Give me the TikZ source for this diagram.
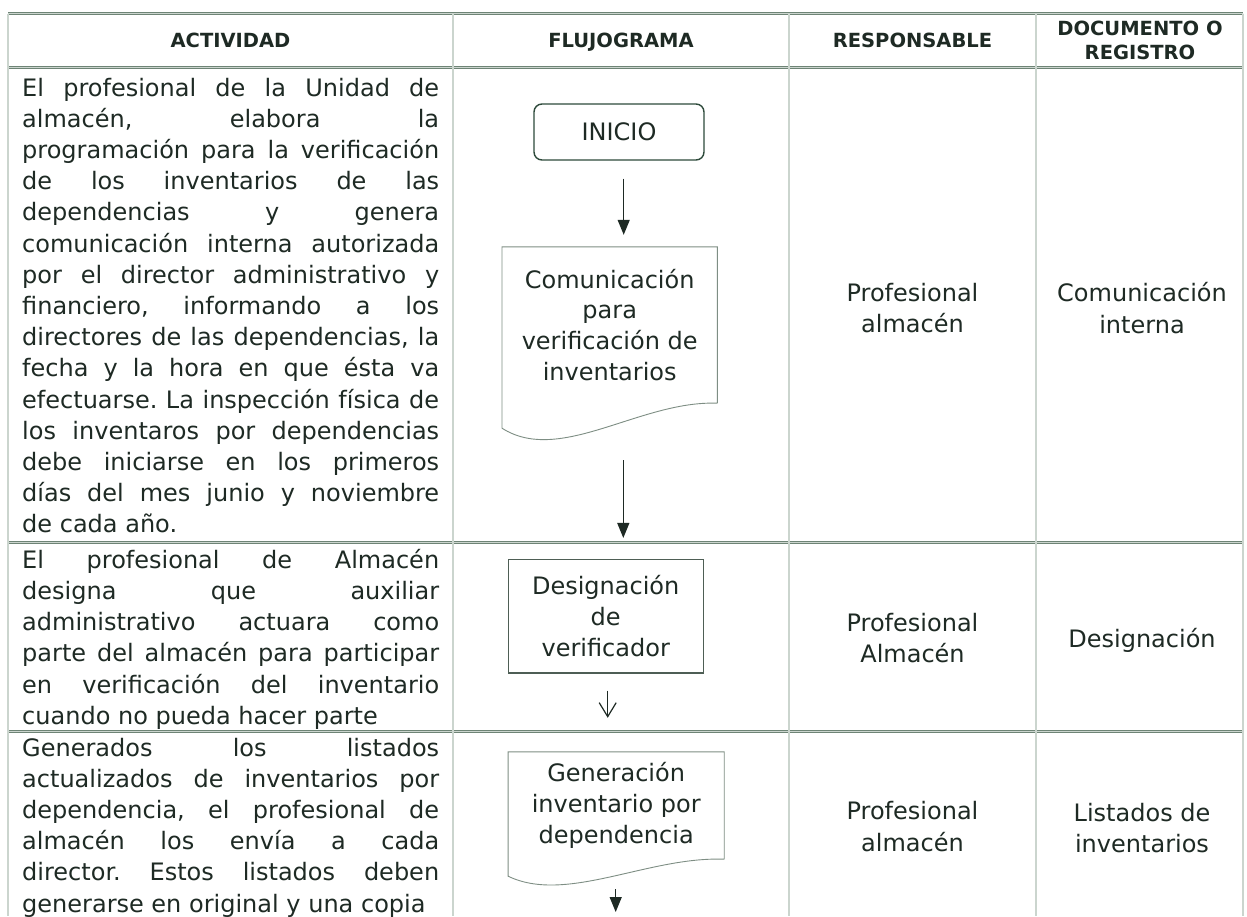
\documentclass[tikz,border=0pt]{standalone}
\usepackage{fontspec}
\setmainfont{DejaVu Sans}
\usepackage{tikz}
\usetikzlibrary{arrows.meta}
\definecolor{GridGreen}{HTML}{6E8476}
\definecolor{GridLight}{HTML}{CBD5CE}
\definecolor{InkDark}{HTML}{1E2A24}
\definecolor{BoxGreen}{HTML}{2E4A3B}
\definecolor{BoxGray}{HTML}{7E8E84}
\definecolor{BoxDark}{HTML}{4E5E55}
\tolerance=10000
\hyphenpenalty=10000
\frenchspacing

\begin{document}
\begin{tikzpicture}[x=1pt,y=-1pt,
  gridline/.style={draw=GridGreen, line width=0.8pt, double=GridLight, double distance=1.2pt},
  headtext/.style={inner sep=0pt, align=center, text=InkDark, font=\fontsize{19.5}{24}\selectfont\bfseries},
  acttext/.style={anchor=north west, inner sep=0pt, text width=417pt, align=justify, text=InkDark,
    font=\fontsize{24}{31.2}\selectfont},
  celltext/.style={inner sep=0pt, align=center, text=InkDark, font=\fontsize{24}{31.2}\selectfont},
  flowtext/.style={inner sep=0pt, align=center, text=InkDark, font=\fontsize{24}{30.9}\selectfont},
  filltip/.style={draw=InkDark, line width=1.3pt, -{Triangle[length=15pt,width=12pt]}},
  opentip/.style={draw=InkDark, line width=1.2pt, -{Straight Barb[length=14pt,width=17pt]}}]

\path[use as bounding box, fill=white] (0,0) rectangle (1247,916);

% --- table grid ---
\foreach \y in {13.5,67.5,542.5,731.5}
  \draw[gridline] (8,\y) -- (1243,\y);
\foreach \x in {8,453,789,1036,1243}
  \draw[gridline] (\x,13.5) -- (\x,916);

% --- header ---
\foreach \x/\lab/\nm in {230.5/ACTIVIDAD/act,621/FLUJOGRAMA/flow,912.5/RESPONSABLE/resp}
  \node[headtext, anchor=base] (h-\nm) at (\x,47.6) {\lab};
\node[headtext] (h-doc) at (1140,40.5) {DOCUMENTO O\\REGISTRO};

% --- activity column ---
\node[acttext] (act-1) at (22,74) {\strut El profesional de la Unidad de\linebreak
  almacén, elabora la\linebreak
  programación para la verificación\linebreak
  de los inventarios de las\linebreak
  dependencias y genera\linebreak
  comunicación interna autorizada\linebreak
  por el director administrativo y\linebreak
  financiero, informando a los\linebreak
  directores de las dependencias, la\linebreak
  fecha y la hora en que ésta va\linebreak
  efectuarse. La inspección física de\linebreak
  los inventaros por dependencias\linebreak
  debe iniciarse en los primeros\linebreak
  días del mes junio y noviembre\linebreak
  de cada año.};
\node[acttext] (act-2) at (22,546.2) {\strut El profesional de Almacén\linebreak
  designa que auxiliar\linebreak
  administrativo actuara como\linebreak
  parte del almacén para participar\linebreak
  en verificación del inventario\linebreak
  cuando no pueda hacer parte};
\node[acttext] (act-3) at (22,734) {\strut Generados los listados\linebreak
  actualizados de inventarios por\linebreak
  dependencia, el profesional de\linebreak
  almacén los envía a cada\linebreak
  director. Estos listados deben\linebreak
  generarse en original y una copia};

% --- flowchart ---
\node[flowtext, draw=BoxGreen, line width=1.4pt, rounded corners=8pt, minimum width=170pt, minimum height=56pt] (inicio) at (619,132) {INICIO};
\node[flowtext, minimum width=215pt, minimum height=156pt] (com) at (609.7,325) {Comunicación\\para\\verificación de\\inventarios};
\draw[BoxGray, line width=0.9pt] (com.south east) -- (com.north east) -- (com.north west) -- ([yshift=-25pt]com.south west)
  .. controls ([xshift=58pt,yshift=-62pt]com.south west) and ([xshift=138pt,yshift=3pt]com.south west) .. (com.south east);
\node[flowtext, draw=BoxDark, line width=1.2pt, minimum width=195pt, minimum height=113.5pt] (desig) at (605.7,616.3) {Designación\\de\\verificador};
\node[flowtext, minimum width=215.7pt, minimum height=107pt] (gen) at (616.2,805.5) {Generación\\inventario por\\dependencia};
\draw[BoxGray, line width=0.9pt] (gen.south east) -- (gen.north east) -- (gen.north west) -- ([yshift=-17pt]gen.south west)
  .. controls ([xshift=58pt,yshift=-45pt]gen.south west) and ([xshift=140pt,yshift=3pt]gen.south west) .. (gen.south east);
\coordinate (flow-end) at (615.7,912);

\draw[filltip] ([xshift=4.7pt,yshift=-18pt]inicio.south) -- ([xshift=14pt,yshift=12pt]com.north);
\draw[filltip] ([xshift=13.6pt,yshift=-57pt]com.south) -- ([xshift=17.6pt,yshift=21pt]desig.north);
\draw[opentip] ([xshift=2pt,yshift=-17pt]desig.south) -- ([xshift=-8.5pt,yshift=34pt]gen.north);
\draw[filltip] ([xshift=-0.5pt,yshift=-30pt]gen.south) -- (flow-end);

% --- responsable / documento ---
\node[celltext] (resp-1) at (912.5,308.2) {Profesional\\almacén};
\node[celltext] (doc-1) at (1142,308) {Comunicación\\interna};
\node[celltext] (resp-2) at (912.5,638.2) {Profesional\\Almacén};
\node[celltext] (doc-2) at (1142,640.7) {Designación};
\node[celltext] (resp-3) at (912.5,826.5) {Profesional\\almacén};
\node[celltext] (doc-3) at (1142,828.2) {Listados de\\inventarios};
\end{tikzpicture}
\end{document}
